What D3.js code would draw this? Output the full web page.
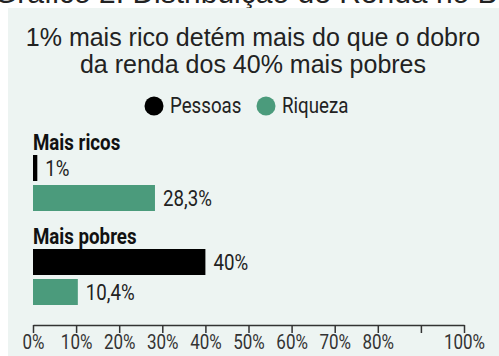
<!DOCTYPE html>
<html>
<head>
<meta charset="utf-8">
<script src="https://cdn.jsdelivr.net/npm/d3@7"></script>
<style>
  body { margin: 0; background: #fff; }
  svg { display: block; }
</style>
</head>
<body>
<div id="chart"></div>
<script>
// data
var groups = ['Mais ricos', 'Mais pobres'];
var series = ['Pessoas', 'Riqueza'];
var pessoas = [1, 40];
var riqueza = [28.3, 10.4];
var valueLabels = [['1%', '28,3%'], ['40%', '10,4%']];
var tickValues = [0, 10, 20, 30, 40, 50, 60, 70, 80, 90, 100];
var tickLabels = ['0%', '10%', '20%', '30%', '40%', '50%', '60%', '70%', '80%', '', '100%'];

var width = 499, height = 356;
var colors = { Pessoas: '#000000', Riqueza: '#4b9b7c' };
var narrow = 0.85; // fake condensed font

var svg = d3.select('#chart').append('svg')
  .attr('width', width)
  .attr('height', height);

// heading above the panel, cut off by the page top like in the source
svg.append('text')
  .attr('x', -6)
  .attr('y', 3)
  .attr('font-family', 'Liberation Sans, Arial, sans-serif')
  .attr('font-size', 30)
  .attr('fill', '#222')
  .text('Gráfico 2: Distribuição de Renda no Brasil');

// panel
svg.append('rect')
  .attr('x', 8).attr('y', 8)
  .attr('width', width - 8).attr('height', height - 8)
  .attr('fill', '#edf4f2');

// title
var title = svg.append('text')
  .attr('font-family', 'Liberation Sans, Arial, sans-serif')
  .attr('font-size', 25)
  .attr('fill', '#222')
  .attr('text-anchor', 'middle');
title.append('tspan').attr('x', 253).attr('y', 46).text('1% mais rico detém mais do que o dobro');
title.append('tspan').attr('x', 253).attr('y', 73).text('da renda dos 40% mais pobres');

// legend
var legendX = [154, 266];
series.forEach(function(s, i) {
  svg.append('circle')
    .attr('cx', legendX[i]).attr('cy', 106).attr('r', 9.5)
    .attr('fill', colors[s]);
  svg.append('text')
    .attr('transform', 'translate(' + (legendX[i] + 16) + ',113) scale(' + narrow + ',1)')
    .attr('font-family', 'Roboto, sans-serif')
    .attr('font-size', 22)
    .attr('fill', '#222')
    .text(s);
});

// scales
var x = d3.scaleLinear().domain([0, 100]).range([33, 464]);
var yGroup = d3.scaleBand().domain(groups).range([155, 155 + 2 * 94]);
var ySeries = d3.scaleBand().domain(series).range([0, 56]).paddingInner(4 / 30);

var rows = [];
groups.forEach(function(g, gi) {
  rows.push({ group: g, series: 'Pessoas', value: pessoas[gi], label: valueLabels[gi][0] });
  rows.push({ group: g, series: 'Riqueza', value: riqueza[gi], label: valueLabels[gi][1] });
});

// group headers
svg.selectAll('text.group')
  .data(groups)
  .enter().append('text')
  .attr('class', 'group')
  .attr('transform', function(d) {
    return 'translate(' + x(0) + ',' + (yGroup(d) - 5) + ') scale(' + narrow + ',1)';
  })
  .attr('font-family', 'Roboto, sans-serif')
  .attr('font-weight', 'bold')
  .attr('font-size', 22)
  .attr('fill', '#111')
  .text(function(d) { return d; });

// bars
svg.selectAll('rect.bar')
  .data(rows)
  .enter().append('rect')
  .attr('class', 'bar')
  .attr('x', x(0))
  .attr('y', function(d) { return yGroup(d.group) + ySeries(d.series); })
  .attr('width', function(d) { return x(d.value) - x(0); })
  .attr('height', ySeries.bandwidth())
  .attr('fill', function(d) { return colors[d.series]; });

// value labels
svg.selectAll('text.val')
  .data(rows)
  .enter().append('text')
  .attr('class', 'val')
  .attr('transform', function(d) {
    var yy = yGroup(d.group) + ySeries(d.series) + ySeries.bandwidth() / 2 + 7.5;
    return 'translate(' + (x(d.value) + 8) + ',' + yy + ') scale(' + narrow + ',1)';
  })
  .attr('font-family', 'Roboto, sans-serif')
  .attr('font-size', 22)
  .attr('fill', '#222')
  .text(function(d) { return d.label; });

// x axis
var xAxis = d3.axisBottom(x)
  .tickValues(tickValues)
  .tickFormat(function(d, i) { return tickLabels[i]; })
  .tickSize(8)
  .tickSizeOuter(0)
  .tickPadding(2);

var xGuide = svg.append('g')
  .attr('transform', 'translate(0,325)')
  .call(xAxis);
xGuide.select('.domain').attr('stroke', '#333').attr('stroke-width', 1.5);
xGuide.selectAll('.tick line').attr('stroke', '#333').attr('stroke-width', 1.5);
xGuide.selectAll('.tick text')
  .attr('font-family', 'Roboto, sans-serif')
  .attr('font-size', 20)
  .attr('fill', '#333')
  .attr('transform', 'scale(' + narrow + ',1)');
</script>
</body>
</html>
